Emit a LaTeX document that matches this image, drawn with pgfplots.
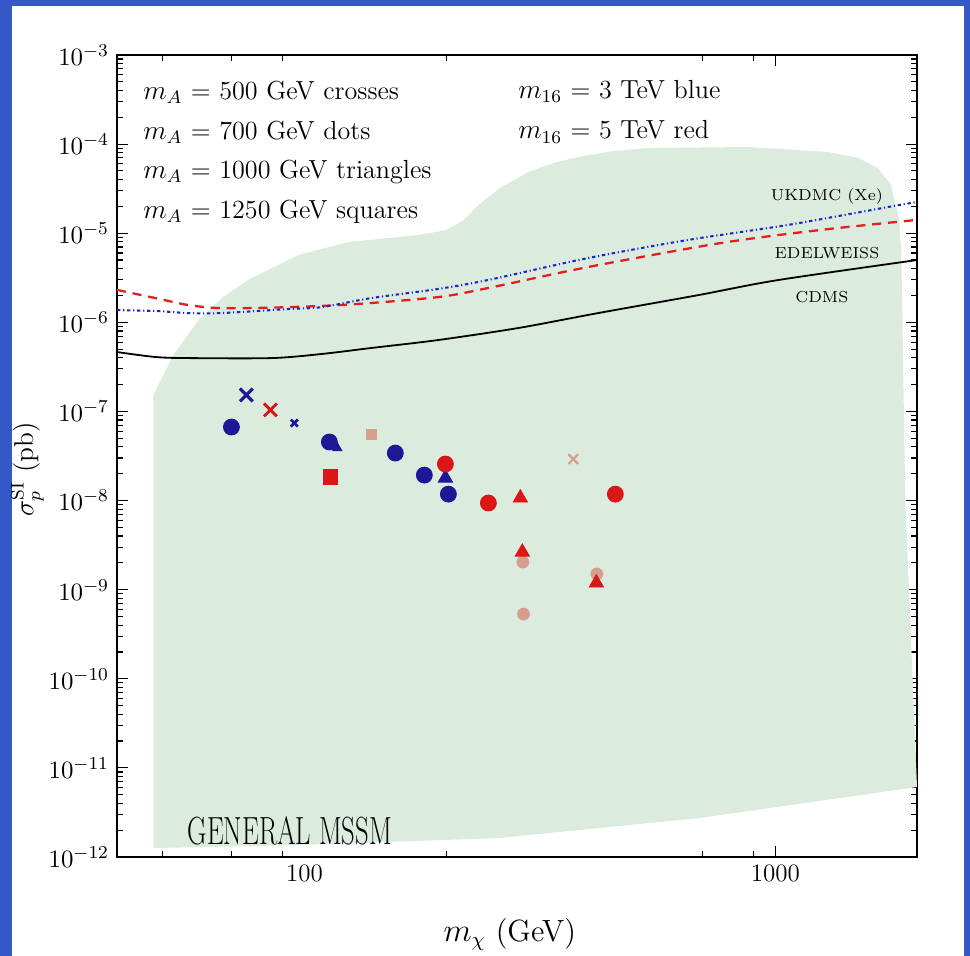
\documentclass[border=0pt]{standalone}
\usepackage{pgfplots}
\pgfplotsset{compat=1.18}

\definecolor{slideblue}{RGB}{52,88,200}
\definecolor{regiongreen}{RGB}{219,236,222}
\definecolor{navy}{RGB}{30,24,150}
\definecolor{ptred}{RGB}{218,22,22}
\definecolor{pale}{RGB}{214,158,140}
\definecolor{ukblue}{RGB}{25,40,205}
\definecolor{edred}{RGB}{228,30,30}

\begin{document}
\begin{tikzpicture}
% slide frame
\fill[slideblue] (-51.48pt,-43.56pt) rectangle (375.32pt,377.08pt);
\fill[white] (-46.2pt,-43.56pt) rectangle (372.68pt,374.44pt);
\begin{axis}[
  at={(0,0)}, anchor=south west,
  scale only axis, width=352pt, height=352.9pt,
  xmode=log, ymode=log,
  xmin=40, xmax=2000, ymin=1e-12, ymax=1e-3,
  axis line style={line width=0.6pt},
  tick align=inside,
  major tick length=5pt, minor tick length=2.5pt,
  every tick/.style={black, line width=0.5pt},
  tick label style={font=\fontsize{11}{13}\selectfont},
  xtick={1000}, xticklabels={1000},
  extra x ticks={100}, extra x tick labels={100},
  extra x tick style={major tick length=0pt},
  minor xtick={50,70,90,200,700,900},
  ytick={1e-12,1e-11,1e-10,1e-9,1e-8,1e-7,1e-6,1e-5,1e-4,1e-3},
  xlabel={$m_\chi$ (GeV)},
  ylabel={$\sigma^{\mathrm{SI}}_{p}$ (pb)},
  xlabel style={font=\fontsize{13.5}{16}\selectfont, at={(axis description cs:0.491,-0.097)}, anchor=center},
  ylabel style={font=\fontsize{12}{14}\selectfont, at={(axis description cs:-0.112,0.483)}, anchor=center},
  clip=true,
]
% allowed parameter region
\addplot[fill=regiongreen, draw=none] coordinates {
  (47.8,1.26e-12) (47.8,1.53e-7) (52.7,4.3e-7) (59.6,1.06e-6) (67,1.9e-6) (76.0,2.99e-6)
  (97.1,5.69e-6) (124,7.96e-6) (174.5,9.55e-6) (200,1.08e-5) (218,1.4e-5) (235,2.1e-5) (260,3.2e-5)
  (299,4.87e-5) (340,6.2e-5) (382,7.16e-5) (450,8.3e-5) (537,9.03e-5) (877,9.27e-5) (1297,8.14e-5)
  (1500,7.0e-5) (1650,5.4e-5) (1760,3.5e-5) (1830,1.5e-5) (1852,6.47e-6) (1889,1.01e-8) (2000,6.1e-12)
  (687,2.73e-12) (258,1.63e-12) (97,1.36e-12) (47.8,1.26e-12)
};
% CDMS limit
\addplot[black, line width=0.8pt, smooth] coordinates {
  (40,4.64e-7) (48.3,4.08e-7) (56.8,3.97e-7) (85.1,3.97e-7) (108.7,4.41e-7)
  (138.7,5.15e-7) (192.5,6.33e-7) (284.6,8.63e-7) (420.7,1.27e-6)
  (686.5,2.02e-6) (1014,2.98e-6) (2000,5.0e-6)
};
% EDELWEISS limit
\addplot[edred, line width=1pt, dash pattern=on 4pt off 3pt, smooth] coordinates {
  (40,2.31e-6) (48.3,1.87e-6) (56.8,1.56e-6) (67.3,1.44e-6) (92.5,1.48e-6)
  (128.2,1.60e-6) (192.5,1.92e-6) (246,2.43e-6) (401,4.18e-6) (767,7.76e-6)
  (1253,1.09e-5) (2000,1.41e-5)
};
% UKDMC (Xe) limit
\addplot[ukblue, line width=0.9pt, dash pattern=on 1.5pt off 1.2pt on 0.5pt off 1.2pt, smooth] coordinates {
  (40,1.37e-6) (48.3,1.34e-6) (56.8,1.27e-6) (66.7,1.27e-6) (92.5,1.41e-6)
  (108.7,1.48e-6) (138.7,1.87e-6) (192.5,2.37e-6) (246,2.99e-6) (401,5.27e-6)
  (653,8.4e-6) (1066,1.24e-5) (1738,1.97e-5) (2000,2.24e-5)
};
% pale points
\addplot[only marks, mark=*, mark size=2.6pt, color=pale] coordinates {
  (291,2.04e-9) (417.8,1.50e-9) (292,5.32e-10)
};
\addplot[only marks, mark=square*, mark size=2.2pt, color=pale] coordinates {
  (138.7,5.57e-8)
};
\addplot[only marks, mark=x, mark size=3pt, color=pale, mark options={line width=1pt}] coordinates {
  (372.5,2.92e-8)
};
% m16 = 3 TeV (blue)
\addplot[only marks, mark=x, mark size=4pt, color=navy, mark options={line width=1.4pt}] coordinates {
  (75.3,1.53e-7)
};
\addplot[only marks, mark=x, mark size=2.2pt, color=navy, mark options={line width=1.2pt}] coordinates {
  (95.2,7.41e-8)
};
\addplot[only marks, mark=*, mark size=3.5pt, color=navy] coordinates {
  (70.0,6.68e-8) (113,4.54e-8) (156,3.41e-8) (179.8,1.93e-8) (202.2,1.18e-8)
};
\addplot[only marks, mark=triangle*, mark size=2.3pt, color=navy] coordinates {
  (117.5,3.88e-8)
};
\addplot[only marks, mark=triangle*, mark size=3.6pt, color=navy] coordinates {
  (199.3,1.79e-8)
};
% m16 = 5 TeV (red)
\addplot[only marks, mark=x, mark size=4pt, color=ptred, mark options={line width=1.3pt}] coordinates {
  (84.7,1.04e-7)
};
\addplot[only marks, mark=square*, mark size=3.2pt, color=ptred] coordinates {
  (113.5,1.84e-8)
};
\addplot[only marks, mark=*, mark size=3.5pt, color=ptred] coordinates {
  (199.3,2.57e-8) (245.9,9.38e-9) (457.5,1.18e-8)
};
\addplot[only marks, mark=triangle*, mark size=3.6pt, color=ptred] coordinates {
  (287.5,1.07e-8) (290.3,2.64e-9) (416.9,1.19e-9)
};
% annotations
\tikzset{legtext/.style={anchor=west, inner sep=0pt, font=\fontsize{11.5}{13}\selectfont}}
\node[legtext] at (rel axis cs:0.0325,0.954) {$m_A$ = 500 GeV crosses};
\node[legtext] at (rel axis cs:0.0325,0.904) {$m_A$ = 700 GeV dots};
\node[legtext] at (rel axis cs:0.0325,0.854) {$m_A$ = 1000 GeV triangles};
\node[legtext] at (rel axis cs:0.0325,0.804) {$m_A$ = 1250 GeV squares};
\node[legtext] at (rel axis cs:0.501,0.954) {$m_{16}$ = 3 TeV blue};
\node[legtext] at (rel axis cs:0.501,0.904) {$m_{16}$ = 5 TeV red};
\node[font=\scriptsize] at (rel axis cs:0.8875,0.823) {UKDMC (Xe)};
\node[font=\scriptsize] at (rel axis cs:0.8875,0.753) {EDELWEISS};
\node[font=\scriptsize] at (rel axis cs:0.881,0.698) {CDMS};
\node[font=\LARGE] at (rel axis cs:0.216,0.032) {\scalebox{0.68}[1]{GENERAL MSSM}};
\end{axis}
% keep the page to the slide frame
\pgfresetboundingbox
\path[use as bounding box] (-51.48pt,-43.56pt) rectangle (375.32pt,377.08pt);
\end{tikzpicture}
\end{document}
